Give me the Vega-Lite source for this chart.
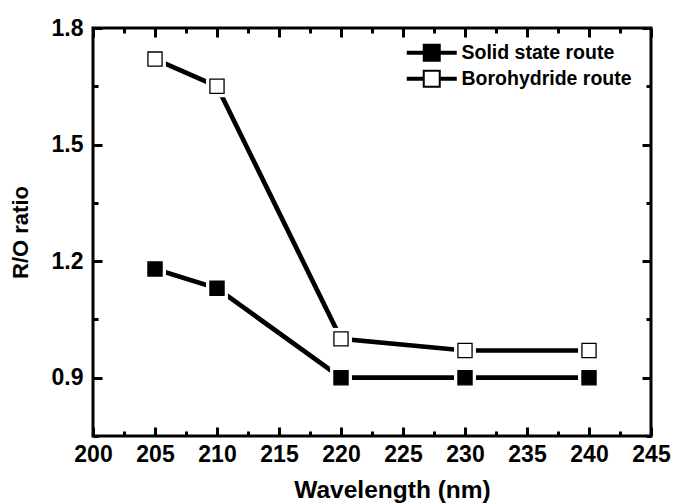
{
  "$schema": "https://vega.github.io/schema/vega-lite/v6.json",
  "width": 558,
  "height": 408,
  "autosize": "none",
  "padding": {"left": 93, "top": 28, "right": 25, "bottom": 68},
  "background": "white",
  "config": {
    "view": {"stroke": "black", "strokeWidth": 3},
    "font": "Liberation Sans",
    "axis": {
      "domain": false,
      "grid": false,
      "tickColor": "black",
      "tickWidth": 3,
      "tickSize": -9,
      "labelFont": "Liberation Sans",
      "labelFontSize": 23,
      "labelFontWeight": "bold",
      "labelColor": "black",
      "titleFont": "Liberation Sans",
      "titleFontSize": 22,
      "titleFontWeight": "bold",
      "titleColor": "black",
      "labelFlush": false,
      "labelOverlap": false,
      "labelBound": false
    }
  },
  "data": {
    "values": [
      {"wavelength": 205, "ratio": 1.18, "series": "Solid state route"},
      {"wavelength": 210, "ratio": 1.13, "series": "Solid state route"},
      {"wavelength": 220, "ratio": 0.90, "series": "Solid state route"},
      {"wavelength": 230, "ratio": 0.90, "series": "Solid state route"},
      {"wavelength": 240, "ratio": 0.90, "series": "Solid state route"},
      {"wavelength": 205, "ratio": 1.72, "series": "Borohydride route"},
      {"wavelength": 210, "ratio": 1.65, "series": "Borohydride route"},
      {"wavelength": 220, "ratio": 1.00, "series": "Borohydride route"},
      {"wavelength": 230, "ratio": 0.97, "series": "Borohydride route"},
      {"wavelength": 240, "ratio": 0.97, "series": "Borohydride route"}
    ]
  },
  "layer": [
    {
      "mark": {"type": "line", "color": "black", "strokeWidth": 4.7, "strokeCap": "round"},
      "encoding": {
        "x": {
          "field": "wavelength", "type": "quantitative",
          "scale": {"domain": [200, 245], "nice": false, "zero": false},
          "axis": {
            "orient": "bottom",
            "title": "Wavelength (nm)",
            "titleFontSize": 24.5,
            "titleX": 299,
            "values": [200, 202.5, 205, 207.5, 210, 212.5, 215, 217.5, 220, 222.5, 225, 227.5, 230, 232.5, 235, 237.5, 240, 242.5, 245],
            "labelExpr": "datum.value % 5 === 0 ? datum.label : ''",
            "tickSize": {"condition": {"test": "datum.value % 5 === 0", "value": -9}, "value": -5},
            "labelPadding": 16,
            "titlePadding": 8
          }
        },
        "y": {
          "field": "ratio", "type": "quantitative",
          "scale": {"domain": [0.75, 1.8], "nice": false, "zero": false},
          "axis": {
            "orient": "left",
            "title": "R/O ratio",
            "titleFontSize": 22,
            "values": [0.75, 0.9, 1.05, 1.2, 1.35, 1.5, 1.65, 1.8],
            "format": ".1f",
            "labelExpr": "abs(datum.value*10/3 - round(datum.value*10/3)) < 0.01 ? datum.label : ''",
            "tickSize": {"condition": {"test": "abs(datum.value*10/3 - round(datum.value*10/3)) < 0.01", "value": -9}, "value": -5},
            "labelPadding": 19,
            "titlePadding": 19
          }
        },
        "detail": {"field": "series"}
      }
    },
    {
      "mark": {"type": "point", "shape": "square", "filled": true, "color": "white", "size": 480, "opacity": 1},
      "encoding": {
        "x": {
          "field": "wavelength", "type": "quantitative",
          "scale": {"domain": [200, 245], "nice": false, "zero": false},
          "axis": {
            "orient": "top",
            "title": null,
            "labels": false,
            "values": [200, 202.5, 205, 207.5, 210, 212.5, 215, 217.5, 220, 222.5, 225, 227.5, 230, 232.5, 235, 237.5, 240, 242.5, 245],
            "tickSize": {"condition": {"test": "datum.value % 5 === 0", "value": -9}, "value": -5}
          }
        },
        "y": {
          "field": "ratio", "type": "quantitative",
          "scale": {"domain": [0.75, 1.8], "nice": false, "zero": false},
          "axis": {
            "orient": "right",
            "title": null,
            "labels": false,
            "values": [0.75, 0.9, 1.05, 1.2, 1.35, 1.5, 1.65, 1.8],
            "tickSize": {"condition": {"test": "abs(datum.value*10/3 - round(datum.value*10/3)) < 0.01", "value": -9}, "value": -5}
          }
        }
      }
    },
    {
      "mark": {"type": "point", "shape": "square", "filled": true, "stroke": "black", "strokeWidth": 1.3, "size": 200, "opacity": 1},
      "encoding": {
        "x": {"field": "wavelength", "type": "quantitative", "scale": {"domain": [200, 245], "nice": false, "zero": false}, "axis": null},
        "y": {"field": "ratio", "type": "quantitative", "scale": {"domain": [0.75, 1.8], "nice": false, "zero": false}, "axis": null},
        "fill": {
          "field": "series", "type": "nominal",
          "scale": {"domain": ["Solid state route", "Borohydride route"], "range": ["black", "white"]},
          "legend": {
            "title": null,
            "orient": "none",
            "legendX": 329,
            "legendY": 15,
            "padding": 0,
            "symbolOffset": 0,
            "symbolType": "M-3,-0.12H-1V0.12H-3Z M1,-0.12H3V0.12H1Z M-1,-1H1V1H-1Z",
            "symbolSize": 256,
            "symbolStrokeWidth": 2,
            "symbolStrokeColor": "black",
            "symbolOpacity": 1,
            "labelFont": "Liberation Sans",
            "labelFontSize": 19.5,
            "labelFontWeight": "bold",
            "labelColor": "black",
            "labelLimit": 0,
            "labelOffset": 20,
            "rowPadding": 1
          }
        }
      }
    }
  ],
  "resolve": {"axis": {"x": "independent", "y": "independent"}}
}
